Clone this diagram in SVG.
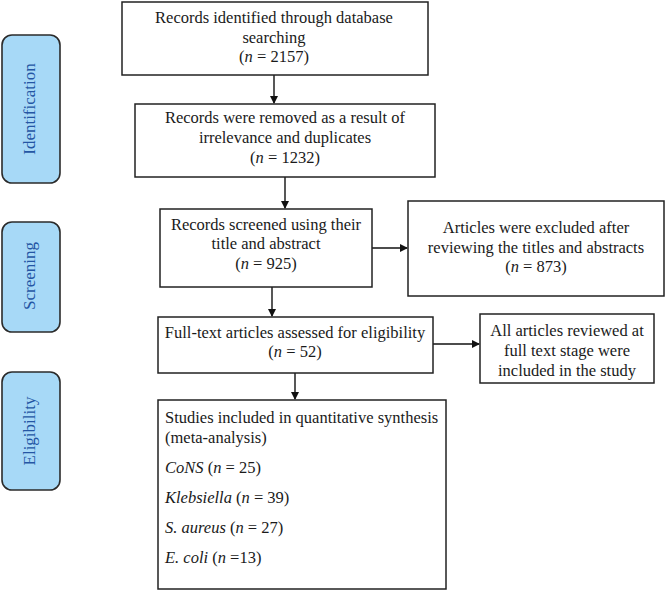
<svg xmlns="http://www.w3.org/2000/svg" width="666" height="592" viewBox="0 0 666 592">
<defs>
<style>
.box{fill:#fff;stroke:#222;stroke-width:1.5}
.side{fill:#a7d9f7;stroke:#2b2b2b;stroke-width:1.6}
.t{font-family:"Liberation Serif","Times New Roman",serif;font-size:16.5px;fill:#1a1a1a}
.c{text-anchor:middle}
.s{font-family:"Liberation Serif","Times New Roman",serif;font-size:17px;fill:#2456a4;text-anchor:middle}
.ln{stroke:#111;stroke-width:1.4;fill:none}
</style>
<marker id="ah" markerWidth="8" markerHeight="8" refX="7" refY="4" orient="auto" markerUnits="userSpaceOnUse">
<path d="M0,0 L8,4 L0,8 Z" fill="#111"/>
</marker>
</defs>
<rect width="666" height="592" fill="#fff"/>

<g id="side-identification">
<rect class="side" x="2" y="35" width="58" height="148" rx="10"/>
<text class="s" transform="translate(35,109) rotate(-90)">Identification</text>
</g>
<g id="side-screening">
<rect class="side" x="2" y="222" width="58" height="110" rx="10"/>
<text class="s" transform="translate(35,276) rotate(-90)">Screening</text>
</g>
<g id="side-eligibility">
<rect class="side" x="2" y="372" width="58" height="118" rx="10"/>
<text class="s" transform="translate(35,431) rotate(-90)">Eligibility</text>
</g>

<g id="connectors">
<line class="ln" x1="274" y1="75" x2="274" y2="103" marker-end="url(#ah)"/>
<line class="ln" x1="285" y1="177" x2="285" y2="208" marker-end="url(#ah)"/>
<line class="ln" x1="372" y1="248" x2="407" y2="248" marker-end="url(#ah)"/>
<line class="ln" x1="272" y1="287" x2="272" y2="316" marker-end="url(#ah)"/>
<line class="ln" x1="433" y1="344" x2="479" y2="344" marker-end="url(#ah)"/>
<line class="ln" x1="295" y1="373" x2="295" y2="399" marker-end="url(#ah)"/>
</g>

<g id="n1">
<rect class="box" x="122" y="2" width="306" height="73"/>
<text class="t c" x="274" y="23">Records identified through database</text>
<text class="t c" x="274" y="42.5">searching</text>
<text class="t c" x="274" y="62">(<tspan font-style="italic">n</tspan> = 2157)</text>
</g>
<g id="n2">
<rect class="box" x="135" y="104" width="300" height="73"/>
<text class="t c" x="285" y="123">Records were removed as a result of</text>
<text class="t c" x="285" y="143">irrelevance and duplicates</text>
<text class="t c" x="285" y="163">(<tspan font-style="italic">n</tspan> = 1232)</text>
</g>
<g id="n3">
<rect class="box" x="160" y="209" width="212" height="78"/>
<text class="t c" x="266" y="230">Records screened using their</text>
<text class="t c" x="266" y="249">title and abstract</text>
<text class="t c" x="266" y="268.5">(<tspan font-style="italic">n</tspan> = 925)</text>
</g>
<g id="n4">
<rect class="box" x="408" y="201" width="256" height="95"/>
<text class="t c" x="536" y="233">Articles were excluded after</text>
<text class="t c" x="536" y="252.5">reviewing the titles and abstracts</text>
<text class="t c" x="536" y="272">(<tspan font-style="italic">n</tspan> = 873)</text>
</g>
<g id="n5">
<rect class="box" x="158" y="317" width="275" height="56"/>
<text class="t c" x="295" y="338">Full-text articles assessed for eligibility</text>
<text class="t c" x="295" y="357">(<tspan font-style="italic">n</tspan> = 52)</text>
</g>
<g id="n6">
<rect class="box" x="480" y="314" width="174" height="69"/>
<text class="t c" x="567" y="336">All articles reviewed at</text>
<text class="t c" x="567" y="356">full text stage were</text>
<text class="t c" x="567" y="376">included in the study</text>
</g>
<g id="n7">
<rect class="box" x="158" y="400" width="288" height="189"/>
<text class="t" x="165" y="423">Studies included in quantitative synthesis</text>
<text class="t" x="165" y="443">(meta-analysis)</text>
<text class="t" x="165" y="473"><tspan font-style="italic">CoNS</tspan> (<tspan font-style="italic">n</tspan> = 25)</text>
<text class="t" x="165" y="503"><tspan font-style="italic">Klebsiella</tspan> (<tspan font-style="italic">n</tspan> = 39)</text>
<text class="t" x="165" y="533"><tspan font-style="italic">S. aureus</tspan> (<tspan font-style="italic">n</tspan> = 27)</text>
<text class="t" x="165" y="563"><tspan font-style="italic">E. coli</tspan> (<tspan font-style="italic">n</tspan> =13)</text>
</g>
</svg>
